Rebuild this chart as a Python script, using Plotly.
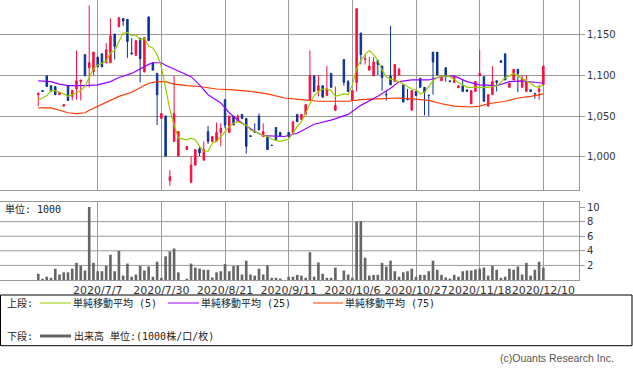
import plotly.graph_objects as go

# ---------------- data ----------------
tick_idx = [14, 29, 44, 59, 74, 89, 104, 119]
tick_labels = ["2020/7/7", "2020/7/30", "2020/8/21", "2020/9/11",
               "2020/10/6", "2020/10/27", "2020/11/18", "2020/12/10"]

opens = [1076, 1081, 1099, 1087, 1086, 1076, 1062, 1087, 1074, 1083,
         1092, 1125, 1109, 1104, 1122, 1126, 1115, 1115, 1150, 1159,
         1169, 1168, 1127, 1124, 1145, 1104, 1171, 1115, 1102, 1047,
         1050, 971, 1019, 1001, None, 1009, 969, 990, 1010, 996,
         1031, 1019, 1019, 1030, 1070, 1030, 1050, 1043, 1052, 1047,
         1026, 1031, 1050, 1025, 1025, 1014.5, 1036, 1030, None, 1030,
         1029, 1052, 1046, 1052, 1069, 1099, 1081, 1087, 1075, 1102,
         1057, None, 1119, 1092, 1069, 1091, 1151, 1119, 1106, 1099,
         1118, 1111, 1076.5, 1099, 1092, 1100, 1088, 1071, 1057, 1080,
         1096, 1085, 1075.5, 1128, 1128, 1093, 1109, 1093, 1091, 1084.5,
         1087, 1082, 1065, 1080, 1099, 1098, 1062, 1076, 1093, 1117.5,
         1126, 1085, 1094, 1107, 1085, 1080, 1082, 1077.5, 1080, 1088]
highs = [1078, 1081, 1099, 1087, 1086, 1079, 1064, 1087, 1081, 1130,
         1094, 1125, 1185, 1128, 1122, 1126, 1139, 1169, 1150, 1170,
         1169, 1168, 1145, 1142, 1145, 1146, 1171, 1115, 1102, 1053,
         1050, 984, 1099, 1031, None, 1013, 1001, 1009, 1013, 1019,
         1038, 1025, 1042, 1041, 1070, 1050, 1050, 1052, 1052, 1047,
         1026, 1041, 1053, 1041, 1025, 1014.5, 1036, 1030, None, 1030,
         1043, 1052, 1052, 1064, 1130, 1099, 1100, 1087, 1111, 1102,
         1086, None, 1119, 1094, 1081, 1181, 1152, 1125, 1122, 1122,
         1118, 1111, 1082, 1160, 1113, 1109, 1088, 1083, 1081, 1080,
         1096, 1085, 1075.5, 1128, 1128, 1100, 1109, 1093, 1098, 1087,
         1094, 1082, 1081, 1092, 1131, 1098, 1076, 1111, 1093, 1117.5,
         1126, 1090, 1107, 1107, 1100, 1100, 1082, 1078, 1088, 1111]
lows = [1062, 1080, 1086, 1080, 1076, 1076, 1062, 1069, 1069, 1070,
        1069, 1099, 1085, 1100, 1110, 1110, 1115, 1115, 1119, 1159,
        1160, 1121, 1125, 1124, 1091, 1103, 1142, 1106, 1039, 1047,
        1001, 965, 1019, 1001, None, 1009, 969, 990, 1001, 996,
        1016, 1019, 1019, 1013, 1035, 1030, 1039, 1043, 1047, 1004,
        1025, 1030, 1033, 1025, 1009, 1014, 1021, 1025, None, 1025,
        1029, 1043, 1046, 1052, 1069, 1080, 1074, 1073, 1075, 1085,
        1056, None, 1087, 1080, 1069, 1080, 1113, 1113, 1106, 1099,
        1100, 1081, 1069, 1088, 1092, 1100, 1067, 1070, 1057, 1075,
        1085, 1051, 1050, 1076, 1100, 1093, 1092, 1092, 1091, 1084.5,
        1080, 1080, 1065, 1080, 1099, 1068, 1062, 1076, 1080, 1115.5,
        1094, 1085, 1094, 1079, 1085, 1080, 1080, 1071, 1070, 1088]
closes = [1078, 1080, 1086, 1080, 1076, 1079, 1064, 1069, 1081, 1093,
          1094, 1099, 1115, 1128, 1110, 1110, 1131, 1148, 1135, 1170,
          1166, 1141, 1126, 1142, 1120, 1146, 1142, 1106, 1076, 1053,
          1001, 976, 1053, 1031, None, 1013, 990, 1009, 1005, 1009,
          1019, 1025, 1030, 1035, 1039, 1050, 1039, 1050, 1047, 1013,
          1025, 1030, 1033, 1031, 1009, 1014, 1021, 1025, None, 1025,
          1043, 1043, 1052, 1064, 1099, 1080, 1087, 1073, 1083, 1085,
          1063, None, 1091, 1080, 1081, 1181, 1125, 1120, 1111, 1116,
          1113, 1097, 1076, 1088, 1113, 1107, 1067, 1070, 1081, 1075,
          1085, 1079, 1075, 1116, 1100, 1098, 1098, 1092, 1098, 1087,
          1080, 1080, 1081, 1092, 1102, 1068, 1076, 1092, 1091, 1115.5,
          1094, 1090, 1107, 1102, 1096, 1092, 1080, 1077, 1083, 1111]
volume = [0.85, 0.13, 0.45, 0.3, 1.55, 0.75, 1.05, 1.05, 1.55, 2.35,
          1.95, 1.3, 10.0, 2.35, 1.2, 1.2, 1.95, 3.45, 1.2, 4.0,
          0.6, 2.25, 0.45, 0.75, 1.95, 1.3, 1.85, 0.45, 2.5, 0.3,
          3.25, 3.9, 4.3, 1.05, None, 0.15, 2.25, 1.7, 1.55, 1.4,
          1.4, 0.35, 1.05, 1.2, 2.2, 1.2, 1.9, 2.0, 0.75, 2.65,
          0.75, 0.6, 1.55, 0.75, 2.0, 0.3, 0.3, 0.2, None, 0.45,
          0.45, 0.7, 0.6, 0.3, 3.8, 0.45, 2.4, 0.85, 0.3, 0.3,
          1.7, None, 1.3, 0.75, 0.3, 8.0, 8.1, 3.05, 0.6, 0.7,
          0.7, 2.35, 1.85, 2.65, 1.2, 0.45, 1.05, 1.2, 1.55, 0.45,
          0.7, 0.7, 1.2, 2.65, 1.4, 0.7, 0.35, 0.2, 0.7, 0.45,
          1.2, 1.3, 1.3, 1.45, 1.55, 1.7, 0.6, 1.95, 1.4, 0.3,
          0.45, 1.55, 1.4, 1.85, 0.75, 2.35, 0.6, 1.4, 2.5, 1.7]

ma5_x = [0, 1, 2, 3, 4, 5, 6, 7, 8, 9, 10, 11, 12, 13, 14, 15, 16, 17, 18, 19,
         20, 21, 22, 23, 24, 25, 26, 27, 28, 29, 30, 31, 32, 33, 35, 36, 37, 38, 39,
         40, 41, 42, 43, 44, 45, 46, 47, 48, 49, 50, 51, 52, 53, 54, 55, 56, 57, 59,
         60, 61, 62, 63, 64, 65, 66, 67, 68, 69, 70, 72, 73, 74, 75, 76, 77, 78, 79,
         80, 81, 82, 83, 84, 85, 86, 87, 88, 89, 90, 91, 92, 93, 94, 95, 96, 97, 98, 99,
         100, 101, 102, 103, 104, 105, 106, 107, 108, 109, 110, 111, 112, 113, 114,
         115, 116, 117, 118, 119]
ma5_v = [1070, 1072, 1075, 1081, 1081, 1079, 1077, 1074, 1076, 1078, 1081, 1086,
         1097, 1108, 1112, 1115, 1117, 1127, 1130, 1141, 1151, 1152, 1148, 1149,
         1143, 1145, 1135, 1133, 1125, 1110, 1086, 1058, 1039, 1023, 1021, 1023,
         1021, 1013, 1007, 1007, 1017, 1019, 1025, 1031, 1037, 1041, 1043, 1041,
         1039, 1033, 1031, 1029, 1026, 1025, 1022, 1020, 1019, 1022, 1029, 1037,
         1043, 1053, 1065, 1075, 1080, 1083, 1083, 1081, 1074, 1077, 1076, 1088,
         1108, 1118, 1125, 1130, 1125, 1118, 1106, 1098, 1095, 1094, 1092, 1089,
         1085, 1083, 1082, 1077, 1079, 1086, 1093, 1097, 1098, 1099, 1098, 1094,
         1091, 1088, 1085, 1085, 1085, 1085, 1085, 1085, 1086, 1087, 1091, 1097,
         1099, 1102, 1099, 1096, 1094, 1090, 1086, 1085, 1088]
ma25_x = [0, 3, 5, 7, 11, 14, 17, 19, 22, 24, 26, 27, 29, 30, 32, 34, 36, 38, 40,
          43, 45, 47, 49, 51, 53, 56, 58, 61, 63, 65, 69, 72, 73, 76, 80, 83, 85,
          88, 92, 95, 98, 101, 104, 108, 111, 114, 117, 119]
ma25_v = [1093, 1092, 1089, 1087, 1087, 1088, 1092, 1097, 1102, 1108, 1113, 1115,
          1115, 1112, 1107, 1103, 1098, 1088, 1076, 1066, 1054, 1045, 1038, 1031,
          1026, 1025, 1025, 1029, 1035, 1040, 1045, 1050, 1052, 1063, 1074, 1084,
          1092, 1094, 1094, 1098, 1099, 1092, 1088, 1087, 1092, 1093, 1091, 1090]
ma75_x = [0, 3, 5, 7, 9, 11, 12, 14, 17, 19, 22, 24, 26, 28, 30, 32, 35, 38, 42,
          46, 50, 54, 58, 62, 66, 73, 76, 80, 85, 88, 92, 95, 98, 102, 104, 106,
          110, 113, 116, 119]
ma75_v = [1060, 1060, 1057, 1054, 1053, 1054, 1057, 1062, 1070, 1074, 1079, 1085,
          1090, 1092, 1092, 1089, 1087, 1086, 1083, 1082, 1080, 1077, 1072, 1070,
          1068, 1068, 1070, 1071, 1072, 1071, 1069, 1065, 1062, 1061, 1062, 1065,
          1068, 1072, 1074, 1077]

price_ticks = [1000, 1050, 1100, 1150]
vol_ticks = [2, 4, 6, 8, 10]
vol_grid = [2, 4, 6, 8]

# ---------------- styling ----------------
RED = "#ff0a3c"
BLUE = "#0a3296"
GREEN = "#99cc00"
PURPLE = "#9a00ff"
ORANGE = "#ff3a00"
GRID = "#9a9a9a"
JP = "DejaVu Sans Mono, Noto Sans CJK JP"
NUM = "DejaVu Sans"

W, H = 633, 373
ML, MR, MT, MB = 0, 54, 0, 93
PW, PH = W - ML - MR, H - MT - MB


def px(xp):
    return (xp - ML) / PW


def py(yp):
    return (PH + MT - yp) / PH


idx = list(range(len(opens)))
keep = [i for i in idx if opens[i] is not None]
vkeep = [i for i in idx if volume[i] is not None]

fig = go.Figure()
fig.add_trace(go.Candlestick(
    x=keep, open=[opens[i] for i in keep], high=[highs[i] for i in keep],
    low=[lows[i] for i in keep], close=[closes[i] for i in keep],
    xaxis="x", yaxis="y", whiskerwidth=0, hoverinfo="skip",
    increasing=dict(line=dict(color=RED, width=1), fillcolor=RED),
    decreasing=dict(line=dict(color=BLUE, width=1), fillcolor=BLUE),
))
for xs, ys, col in [(ma75_x, ma75_v, ORANGE), (ma25_x, ma25_v, PURPLE), (ma5_x, ma5_v, GREEN)]:
    fig.add_trace(go.Scatter(x=xs, y=ys, mode="lines", xaxis="x", yaxis="y",
                             line=dict(color=col, width=1.2), hoverinfo="skip"))
fig.add_trace(go.Bar(x=vkeep, y=[volume[i] for i in vkeep], xaxis="x2", yaxis="y2",
                     width=0.62, marker=dict(color="#666666", line=dict(width=0)),
                     hoverinfo="skip"))

xr = [-9.02, 127.4]
common_x = dict(range=xr, tickmode="array", tickvals=tick_idx, showgrid=True,
                gridcolor=GRID, gridwidth=1, zeroline=False, showline=True,
                linecolor=GRID, linewidth=1, mirror=True, fixedrange=True,
                automargin=False, tickangle=0)

shapes = []
for g in vol_grid:
    shapes.append(dict(type="line", xref="paper", yref="y2", x0=0, x1=1, y0=g, y1=g,
                       line=dict(color=GRID, width=1), layer="below"))
# legend frame
shapes.append(dict(type="rect", xref="paper", yref="paper", x0=px(0.5), x1=px(632),
                   y0=py(295), y1=py(345.7), line=dict(color="#000000", width=1)))
for (x0, x1, yy, col, wd) in [(40, 71, 303, GREEN, 1), (168, 199, 303, PURPLE, 1),
                              (313, 343, 303, ORANGE, 1), (40, 71, 336, "#666666", 3)]:
    shapes.append(dict(type="line", xref="paper", yref="paper", x0=px(x0), x1=px(x1),
                       y0=py(yy), y1=py(yy), line=dict(color=col, width=wd)))

ann = []


def txt(t, x, y, size=10, fam=JP, col="#222222", anchor="left"):
    ann.append(dict(text=t, xref="paper", yref="paper", x=px(x), y=py(y), showarrow=False,
                    xanchor=anchor, yanchor="middle", borderpad=0,
                    font=dict(family=fam, size=size, color=col)))


txt("単位: 1000", 4, 209)
txt("上段:", 6, 303)
txt("単純移動平均 (5)", 72, 303)
txt("単純移動平均 (25)", 200, 303)
txt("単純移動平均 (75)", 344, 303)
txt("下段:", 6, 336)
txt("出来高 単位:(1000株/口/枚)", 73, 336)
txt("(c)Ouants Research Inc.", 615, 358, size=10.5, fam="Liberation Sans", col="#555555", anchor="right")

fig.update_layout(
    width=W, height=H, margin=dict(l=ML, r=MR, t=MT, b=MB, autoexpand=False),
    paper_bgcolor="white", plot_bgcolor="white", showlegend=False,
    boxgap=0.5,
    xaxis=dict(**common_x, anchor="y", showticklabels=False, ticks="",
               rangeslider=dict(visible=False), domain=[0, 1]),
    yaxis=dict(domain=[py(190), 1], range=[959.7, 1191.6], side="right",
               tickmode="array", tickvals=price_ticks, tickformat=",d",
               ticks="outside", ticklen=5, tickcolor=GRID, showgrid=True,
               gridcolor=GRID, zeroline=False, showline=True, linecolor=GRID,
               mirror=True, tickfont=dict(family=NUM, size=10, color="#333333"),
               fixedrange=True, automargin=False),
    xaxis2=dict(**common_x, anchor="y2", ticktext=tick_labels, showticklabels=True,
                ticks="", tickfont=dict(family=NUM, size=11, color="#333333"), domain=[0, 1]),
    yaxis2=dict(domain=[0, py(201.7)], range=[0, 10.73], side="right",
                tickmode="array", tickvals=vol_ticks, ticks="outside", ticklen=5,
                tickcolor=GRID, showgrid=False, zeroline=False, showline=True,
                linecolor=GRID, mirror=True,
                tickfont=dict(family=NUM, size=10, color="#333333"), fixedrange=True,
                automargin=False),
    shapes=shapes, annotations=ann,
)

fig.write_html("out.html", config={"displayModeBar": False},
               post_script="document.body.style.margin='0px';document.body.style.padding='0px';")
